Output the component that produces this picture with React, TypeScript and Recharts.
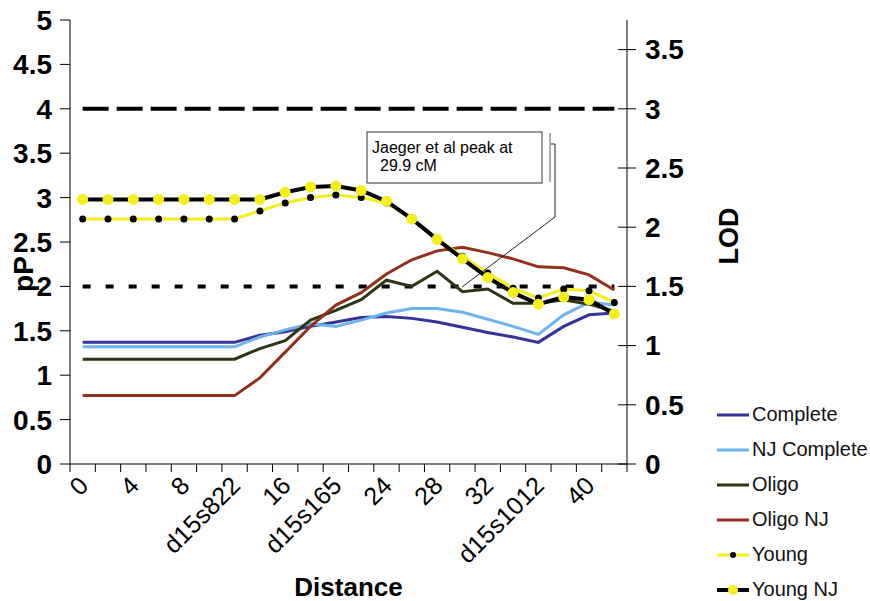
import { LineChart, Line, XAxis, YAxis, ReferenceLine, Legend } from 'recharts'

// distance categories (2 cM steps), markers replace 12, 20 and 36
const categories = ['0', '2', '4', '6', '8', '10', 'd15s822', '14', '16', '18', 'd15s165', '22', '24', '26', '28', '30', '32', '34', 'd15s1012', '38', '40', '42']

const complete = [1.37, 1.37, 1.37, 1.37, 1.37, 1.37, 1.37, 1.45, 1.49, 1.55, 1.6, 1.65, 1.66, 1.64, 1.6, 1.54, 1.48, 1.43, 1.37, 1.55, 1.68, 1.7]
const njComplete = [1.32, 1.32, 1.32, 1.32, 1.32, 1.32, 1.32, 1.43, 1.51, 1.58, 1.55, 1.62, 1.7, 1.75, 1.75, 1.71, 1.63, 1.55, 1.46, 1.68, 1.82, 1.79]
const oligo = [1.18, 1.18, 1.18, 1.18, 1.18, 1.18, 1.18, 1.3, 1.39, 1.62, 1.73, 1.85, 2.07, 2.0, 2.17, 1.94, 1.97, 1.81, 1.81, 1.85, 1.8, 1.72]
const oligoNJ = [0.77, 0.77, 0.77, 0.77, 0.77, 0.77, 0.77, 0.97, 1.26, 1.55, 1.79, 1.93, 2.14, 2.3, 2.4, 2.44, 2.38, 2.31, 2.22, 2.21, 2.13, 1.96]
const young = [2.76, 2.76, 2.76, 2.76, 2.76, 2.76, 2.76, 2.85, 2.94, 3.0, 3.03, 3.0, 2.94, 2.76, 2.53, 2.34, 2.15, 1.98, 1.87, 1.97, 1.95, 1.82]
const youngNJ = [2.98, 2.98, 2.98, 2.98, 2.98, 2.98, 2.98, 2.98, 3.06, 3.12, 3.13, 3.08, 2.96, 2.76, 2.53, 2.31, 2.1, 1.93, 1.8, 1.88, 1.85, 1.69]

const ppTicks = [0, 0.5, 1, 1.5, 2, 2.5, 3, 3.5, 4, 4.5, 5]
const lodTicks = [0, 0.5, 1, 1.5, 2, 2.5, 3, 3.5]
const lodSignificant = 3
const lodSuggestive = 1.5

const data = categories.map((cat, i) => ({
  cat,
  complete: complete[i],
  njComplete: njComplete[i],
  oligo: oligo[i],
  oligoNJ: oligoNJ[i],
  young: young[i],
  youngNJ: youngNJ[i],
}))

const SERIES = [
  { key: 'complete', name: 'Complete', color: '#333399', width: 3, dot: null },
  { key: 'njComplete', name: 'NJ Complete', color: '#6cb4ef', width: 3, dot: null },
  { key: 'oligo', name: 'Oligo', color: '#2f3413', width: 3, dot: null },
  { key: 'oligoNJ', name: 'Oligo NJ', color: '#933019', width: 3, dot: null },
  { key: 'young', name: 'Young', color: '#f5ee1a', width: 3, dot: { r: 3.5, fill: '#000' } },
  { key: 'youngNJ', name: 'Young NJ', color: '#000000', width: 4, dot: { r: 5.5, fill: '#f5ee1a' } },
]

const FONT = '"Liberation Sans", Arial, Helvetica, sans-serif'

const XTick = (props: any) => {
  const { x, y, payload, index } = props
  const half = payload?.offset || 12.66
  const showLabel = index % 2 === 0
  const ax = x + 1
  const ay = y + 9
  return (
    <g>
      <line x1={x - half} x2={x - half} y1={y - 8} y2={y} stroke="#000" />
      {index === categories.length - 1 && <line x1={x + half} x2={x + half} y1={y - 8} y2={y} stroke="#000" />}
      {showLabel && (
        <text x={ax} y={ay} transform={`rotate(-45, ${ax}, ${ay})`} textAnchor="end" dy="0.35em" fontSize={25} fill="#000">
          {payload.value}
        </text>
      )}
    </g>
  )
}

const LodTick = (props: any) => {
  const { x, y, payload } = props
  return (
    <g>
      <line x1={x - 9} x2={x + 9} y1={y} y2={y} stroke="#000" />
      <text x={x + 18} y={y} dy="0.35em" fontSize={28} fontWeight="bold" fill="#000">
        {payload.value}
      </text>
    </g>
  )
}

const LegendBox = () => (
  <div style={{ fontFamily: FONT, fontSize: 20, color: '#111' }}>
    {SERIES.map((s) => (
      <div key={s.key} style={{ display: 'flex', alignItems: 'center', height: 35 }}>
        <svg width={34} height={14} style={{ marginRight: 2 }}>
          <line x1={1} x2={33} y1={7} y2={7} stroke={s.color} strokeWidth={s.width} />
          {s.dot && <circle cx={17} cy={7} r={s.dot.r - 0.5} fill={s.dot.fill} />}
        </svg>
        <span>{s.name}</span>
      </div>
    ))}
  </div>
)

export default function App() {
  return (
    <div style={{ position: 'absolute', left: 0, top: 0, width: 870, height: 601, background: '#fff', fontFamily: FONT }}>
      <LineChart width={870} height={601} data={data} margin={{ top: 20, right: 0, bottom: 0, left: 0 }}>
        <XAxis
          dataKey="cat"
          scale="band"
          interval={0}
          height={137}
          tickSize={8}
          tickMargin={0}
          tickLine={false}
          tick={<XTick />}
          axisLine={{ stroke: '#000' }}
          label={(p: any) => {
            const vb = p.viewBox
            return (
              <text x={vb.x + vb.width / 2} y={vb.y + 132} textAnchor="middle" fontSize={26} fontWeight="bold" fill="#000">
                Distance
              </text>
            )
          }}
        />
        <YAxis
          yAxisId="pp"
          width={70}
          domain={[0, 5]}
          ticks={ppTicks}
          interval={0}
          tickSize={10}
          tickMargin={8}
          tick={{ fontSize: 28, fontWeight: 'bold', fill: '#000' }}
          tickLine={{ stroke: '#000' }}
          axisLine={{ stroke: '#000' }}
          label={(p: any) => {
            const vb = p.viewBox
            const cx = vb.x + 23
            const cy = vb.y + 254
            return (
              <text x={cx} y={cy} transform={`rotate(-90, ${cx}, ${cy})`} textAnchor="middle" dy="0.35em" fontSize={28} fontWeight="bold" fill="#000">
                pP
              </text>
            )
          }}
        />
        <YAxis
          yAxisId="lod"
          orientation="right"
          width={243}
          domain={[0, 3.75]}
          allowDataOverflow
          ticks={lodTicks}
          interval={0}
          tickSize={0}
          tickMargin={0}
          tickLine={false}
          tick={<LodTick />}
          axisLine={{ stroke: '#000' }}
          label={(p: any) => {
            const vb = p.viewBox
            const cx = vb.x + 102
            const cy = 236
            return (
              <text x={cx} y={cy} transform={`rotate(-90, ${cx}, ${cy})`} textAnchor="middle" dy="0.35em" fontSize={27} fontWeight="bold" fill="#000">
                LOD
              </text>
            )
          }}
        />
        <ReferenceLine
          yAxisId="lod"
          segment={[{ x: categories[0], y: lodSignificant }, { x: categories[categories.length - 1], y: lodSignificant }]}
          stroke="#000"
          strokeWidth={4}
          strokeDasharray="26 8"
        />
        <ReferenceLine
          yAxisId="lod"
          segment={[{ x: categories[0], y: lodSuggestive }, { x: categories[categories.length - 1], y: lodSuggestive }]}
          stroke="#000"
          strokeWidth={4}
          strokeDasharray="8 15"
        />
        {SERIES.map((s) => (
          <Line
            key={s.key}
            yAxisId="pp"
            type="linear"
            dataKey={s.key}
            name={s.name}
            stroke={s.color}
            strokeWidth={s.width}
            dot={s.dot ? { r: s.dot.r, fill: s.dot.fill, stroke: 'none' } : false}
            activeDot={false}
            isAnimationActive={false}
          />
        ))}
        <Legend
          layout="vertical"
          align="center"
          verticalAlign="middle"
          wrapperStyle={{ left: 716, top: 397, width: 154 }}
          content={<LegendBox />}
        />
      </LineChart>
      <svg width={870} height={601} style={{ position: 'absolute', left: 0, top: 0, pointerEvents: 'none' }}>
        <rect x={367} y={132} width={175} height={51} fill="#fff" stroke="#333" strokeWidth={1} />
        <text x={372} y={153} fontSize={16} fill="#000">Jaeger et al peak at</text>
        <text x={380} y={171} fontSize={16} fill="#000">29.9 cM</text>
        <polyline points="550,133 550,182" fill="none" stroke="#555" strokeWidth={1} />
        <polyline points="551,144 555,144 555,217 462,287" fill="none" stroke="#222" strokeWidth={1} />
      </svg>
    </div>
  )
}
